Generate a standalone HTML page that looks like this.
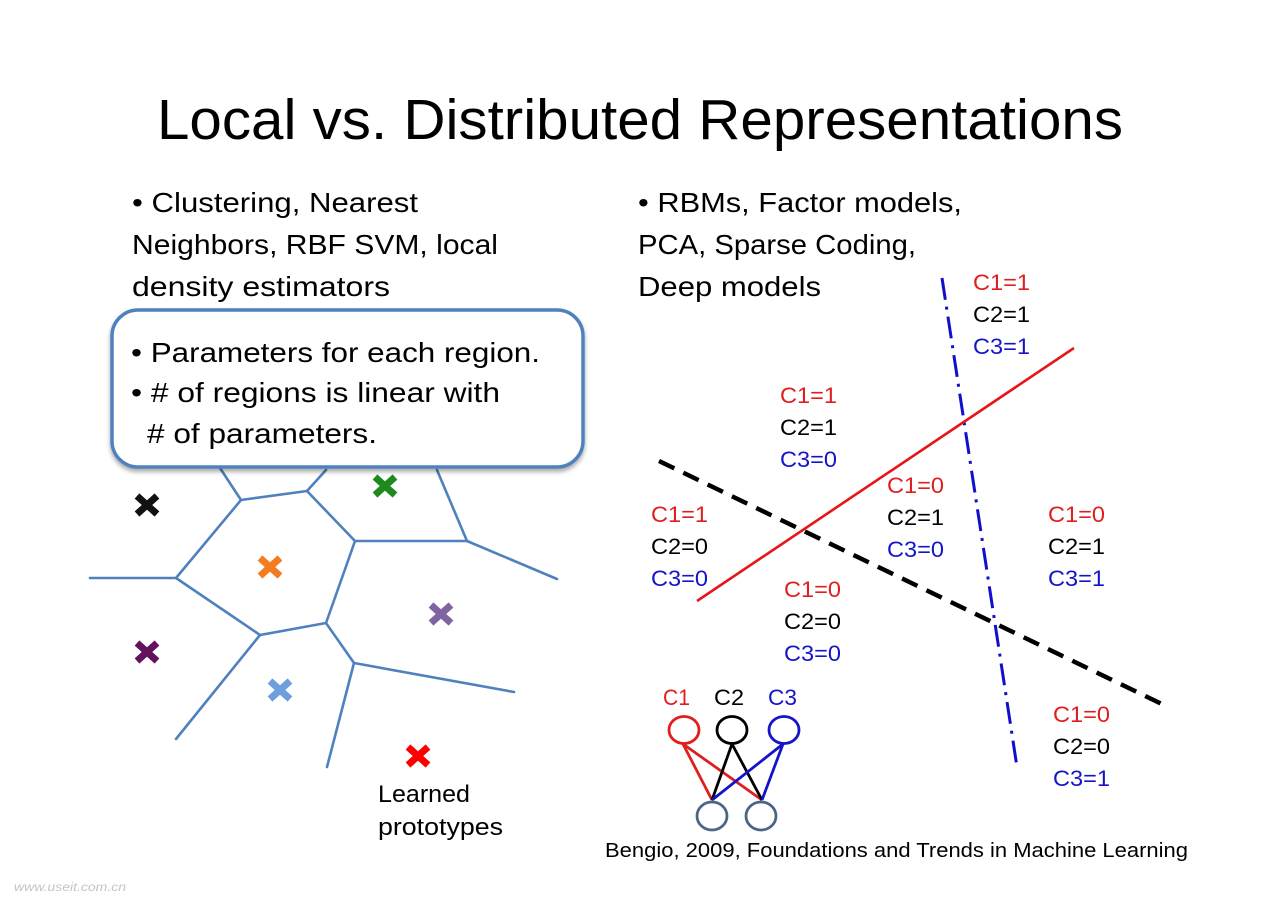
<!DOCTYPE html>
<html>
<head>
<meta charset="utf-8">
<style>
  html, body { margin: 0; padding: 0; background: #ffffff; }
  svg { display: block; }
  text { font-family: "Liberation Sans", sans-serif; }
</style>
</head>
<body>
<svg width="1280" height="904" viewBox="0 0 1280 904" xmlns="http://www.w3.org/2000/svg">
  <defs>
    <filter id="sh" x="-5%" y="-5%" width="110%" height="120%">
      <feGaussianBlur in="SourceAlpha" stdDeviation="2.5"/>
      <feOffset dx="0" dy="3" result="b"/>
      <feComponentTransfer><feFuncA type="linear" slope="0.35"/></feComponentTransfer>
      <feMerge><feMergeNode/><feMergeNode in="SourceGraphic"/></feMerge>
    </filter>
    <g id="xm">
      <line x1="-10" y1="-9" x2="10" y2="9" stroke-width="7"/>
      <line x1="-10" y1="9" x2="10" y2="-9" stroke-width="7"/>
    </g>
  </defs>
  <rect width="1280" height="904" fill="#ffffff"/>

  <!-- Title -->
  <text x="157" y="139" font-size="57" fill="#000" textLength="966" lengthAdjust="spacingAndGlyphs">Local vs. Distributed Representations</text>

  <!-- Left bullets -->
  <text x="132" y="212" font-size="28" fill="#000" textLength="286" lengthAdjust="spacingAndGlyphs">• Clustering, Nearest</text>
  <text x="132" y="254" font-size="28" fill="#000" textLength="366" lengthAdjust="spacingAndGlyphs">Neighbors, RBF SVM, local</text>
  <text x="132" y="296" font-size="28" fill="#000" textLength="258" lengthAdjust="spacingAndGlyphs">density estimators</text>

  <!-- Right bullets -->
  <text x="638" y="212" font-size="28" fill="#000" textLength="324" lengthAdjust="spacingAndGlyphs">• RBMs, Factor models,</text>
  <text x="638" y="254" font-size="28" fill="#000" textLength="278" lengthAdjust="spacingAndGlyphs">PCA, Sparse Coding,</text>
  <text x="638" y="296" font-size="28" fill="#000" textLength="183" lengthAdjust="spacingAndGlyphs">Deep models</text>

  <!-- Voronoi diagram -->
  <g stroke="#4f81bd" stroke-width="2.6" fill="none" stroke-linecap="round" stroke-linejoin="round">
    <polyline points="220,468 241,500 307,491 326,470"/>
    <polyline points="307,491 355,541 467,541 437,470"/>
    <line x1="467" y1="541" x2="557" y2="579"/>
    <polyline points="90,578 176,578 241,500"/>
    <line x1="355" y1="541" x2="326" y2="623"/>
    <polyline points="176,578 260,635 326,623 354,663 514,692"/>
    <line x1="260" y1="635" x2="176" y2="739"/>
    <line x1="354" y1="663" x2="327" y2="767"/>
  </g>

  <!-- Callout box -->
  <rect x="112" y="310" width="471" height="157" rx="26" ry="26" fill="#ffffff" stroke="#4f81bd" stroke-width="3.5" filter="url(#sh)"/>
  <text x="131" y="362" font-size="28" fill="#000" textLength="409" lengthAdjust="spacingAndGlyphs">• Parameters for each region.</text>
  <text x="131" y="402" font-size="28" fill="#000" textLength="369" lengthAdjust="spacingAndGlyphs">• # of regions is linear with</text>
  <text x="147" y="443" font-size="28" fill="#000" textLength="230" lengthAdjust="spacingAndGlyphs"># of parameters.</text>

  <!-- Prototype markers -->
  <use href="#xm" x="147" y="505" stroke="#111111"/>
  <use href="#xm" x="385" y="486" stroke="#1e8a1e"/>
  <use href="#xm" x="270" y="567" stroke="#f47c20"/>
  <use href="#xm" x="441" y="614" stroke="#8064a2"/>
  <use href="#xm" x="147" y="652" stroke="#62125f"/>
  <use href="#xm" x="280" y="690" stroke="#6e9fdc"/>
  <use href="#xm" x="418" y="756" stroke="#ff0000"/>

  <text x="378" y="802" font-size="24" fill="#000" textLength="92" lengthAdjust="spacingAndGlyphs">Learned</text>
  <text x="378" y="835" font-size="24" fill="#000" textLength="125" lengthAdjust="spacingAndGlyphs">prototypes</text>

  <!-- Right side partition lines -->
  <line x1="942" y1="278" x2="1017" y2="767" stroke="#1010cc" stroke-width="3" stroke-dasharray="22 7 3 7"/>
  <line x1="697" y1="601" x2="1074" y2="348" stroke="#e8141c" stroke-width="2.6"/>
  <line x1="659" y1="461" x2="1168" y2="707" stroke="#000" stroke-width="4.5" stroke-dasharray="17 10"/>

  <!-- Region labels -->
  <g font-size="22">
    <text x="973" y="290" fill="#e01e1e" textLength="57" lengthAdjust="spacingAndGlyphs">C1=1</text>
    <text x="973" y="322" fill="#000" textLength="57" lengthAdjust="spacingAndGlyphs">C2=1</text>
    <text x="973" y="354" fill="#1414c8" textLength="57" lengthAdjust="spacingAndGlyphs">C3=1</text>

    <text x="780" y="403" fill="#e01e1e" textLength="57" lengthAdjust="spacingAndGlyphs">C1=1</text>
    <text x="780" y="435" fill="#000" textLength="57" lengthAdjust="spacingAndGlyphs">C2=1</text>
    <text x="780" y="467" fill="#1414c8" textLength="57" lengthAdjust="spacingAndGlyphs">C3=0</text>

    <text x="887" y="493" fill="#e01e1e" textLength="57" lengthAdjust="spacingAndGlyphs">C1=0</text>
    <text x="887" y="525" fill="#000" textLength="57" lengthAdjust="spacingAndGlyphs">C2=1</text>
    <text x="887" y="557" fill="#1414c8" textLength="57" lengthAdjust="spacingAndGlyphs">C3=0</text>

    <text x="651" y="522" fill="#e01e1e" textLength="57" lengthAdjust="spacingAndGlyphs">C1=1</text>
    <text x="651" y="554" fill="#000" textLength="57" lengthAdjust="spacingAndGlyphs">C2=0</text>
    <text x="651" y="586" fill="#1414c8" textLength="57" lengthAdjust="spacingAndGlyphs">C3=0</text>

    <text x="1048" y="522" fill="#e01e1e" textLength="57" lengthAdjust="spacingAndGlyphs">C1=0</text>
    <text x="1048" y="554" fill="#000" textLength="57" lengthAdjust="spacingAndGlyphs">C2=1</text>
    <text x="1048" y="586" fill="#1414c8" textLength="57" lengthAdjust="spacingAndGlyphs">C3=1</text>

    <text x="784" y="597" fill="#e01e1e" textLength="57" lengthAdjust="spacingAndGlyphs">C1=0</text>
    <text x="784" y="629" fill="#000" textLength="57" lengthAdjust="spacingAndGlyphs">C2=0</text>
    <text x="784" y="661" fill="#1414c8" textLength="57" lengthAdjust="spacingAndGlyphs">C3=0</text>

    <text x="1053" y="722" fill="#e01e1e" textLength="57" lengthAdjust="spacingAndGlyphs">C1=0</text>
    <text x="1053" y="754" fill="#000" textLength="57" lengthAdjust="spacingAndGlyphs">C2=0</text>
    <text x="1053" y="786" fill="#1414c8" textLength="57" lengthAdjust="spacingAndGlyphs">C3=1</text>

    <!-- network labels -->
    <text x="663" y="705" fill="#e01e1e" textLength="27" lengthAdjust="spacingAndGlyphs">C1</text>
    <text x="714" y="705" fill="#000" textLength="30" lengthAdjust="spacingAndGlyphs">C2</text>
    <text x="768" y="705" fill="#1414c8" textLength="29" lengthAdjust="spacingAndGlyphs">C3</text>
  </g>

  <!-- Network -->
  <g stroke-width="2.8" fill="none">
    <line x1="683" y1="744" x2="712" y2="800" stroke="#e01e1e"/>
    <line x1="683" y1="744" x2="762" y2="800" stroke="#e01e1e"/>
    <line x1="732" y1="744" x2="712" y2="800" stroke="#000"/>
    <line x1="732" y1="744" x2="762" y2="800" stroke="#000"/>
    <line x1="783" y1="744" x2="712" y2="800" stroke="#1414c8"/>
    <line x1="783" y1="744" x2="762" y2="800" stroke="#1414c8"/>
    <ellipse cx="684" cy="730" rx="15" ry="13.5" stroke="#e01e1e"/>
    <ellipse cx="732" cy="730" rx="15" ry="13.5" stroke="#000"/>
    <ellipse cx="784" cy="730" rx="15" ry="13.5" stroke="#1414c8"/>
    <ellipse cx="712" cy="816" rx="15" ry="14" stroke="#4a6585"/>
    <ellipse cx="761" cy="816" rx="15" ry="14" stroke="#4a6585"/>
  </g>

  <!-- Citation -->
  <text x="605" y="857" font-size="20" fill="#000" textLength="583" lengthAdjust="spacingAndGlyphs">Bengio, 2009, Foundations and Trends in Machine Learning</text>

  <!-- Watermark -->
  <text x="14" y="891" font-size="12" fill="#c4c4c4" textLength="112" lengthAdjust="spacingAndGlyphs" font-family="Liberation Serif, serif" font-style="italic">www.useit.com.cn</text>
</svg>
</body>
</html>
